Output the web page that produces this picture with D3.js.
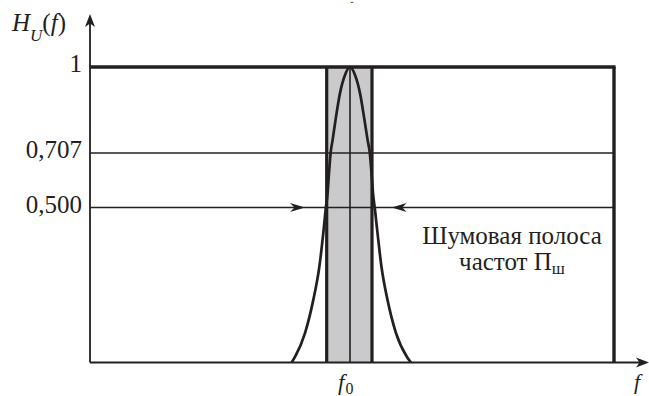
<!DOCTYPE html>
<html>
<head>
<meta charset="utf-8">
<script src="https://cdn.jsdelivr.net/npm/d3@7/dist/d3.min.js"></script>
<style>
  html, body { margin: 0; padding: 0; background: #fff; }
  svg { display: block; }
  svg text { font-family: "Liberation Serif", "Times New Roman", Tinos, "Noto Serif", "DejaVu Serif", serif; fill: #231f20; }
</style>
</head>
<body>
<div id="chart"></div>
<script>
// Resonance curve H_U(f) with its equivalent noise bandwidth
const levels = [1, 0.707, 0.5];
const tickLabels = ["1", "0,707", "0,500"];

// Detuning from f0 (relative units) and curve values
const curveF = [-5.84, -5.5, -4.5, -3.67, -3.07, -2.67, -2.44, -2.24, -2.1, -1.94, -1.74, -1.4, -1.0, -0.5, 0,
                 0.5, 1.0, 1.4, 1.76, 1.98, 2.15, 2.3, 2.5, 2.75, 3.15, 3.75, 4.6, 5.7, 6.1];
const curveH = [0, 0.018, 0.095, 0.202, 0.308, 0.418, 0.492, 0.555, 0.631, 0.707, 0.751, 0.83, 0.911, 0.973, 1,
                0.973, 0.911, 0.83, 0.751, 0.707, 0.631, 0.555, 0.492, 0.418, 0.308, 0.202, 0.095, 0.018, 0];

// Noise bandwidth edges and the frame's right edge
const bandEdges = [-2.33, 2.2];
const frameRight = [26.4];
// Arrow tips marking the noise band on the 0.5 level
const arrowTips = [-4.5, 4.17];

const W = 649, H = 396;
const serif = "'Liberation Serif', 'Times New Roman', Tinos, 'Noto Serif', 'DejaVu Serif', serif";
const svg = d3.select("#chart").append("svg").attr("width", W).attr("height", H)
  .attr("font-family", serif);

const x = d3.scaleLinear().domain([-26, 26.4]).range([90, 614]);
const y = d3.scaleLinear().domain([0, 0.5, 0.707, 1]).range([362.5, 207.5, 153, 67]);

const ink = "#231f20";
const x0 = x.range()[0];
const xEnd = x(frameRight[0]);

// noise band
svg.append("rect")
  .attr("x", x(bandEdges[0])).attr("y", y(1))
  .attr("width", x(bandEdges[1]) - x(bandEdges[0]))
  .attr("height", y(0) - y(1))
  .attr("fill", "#cacacc");

// reference levels 0.707 and 0.5
svg.selectAll("line.level")
  .data(levels.slice(1))
  .join("line")
  .attr("class", "level")
  .attr("x1", x0).attr("x2", xEnd)
  .attr("y1", d => y(d)).attr("y2", d => y(d))
  .attr("stroke", ink).attr("stroke-width", 1.6);

// centre frequency line
svg.append("line")
  .attr("x1", x(0)).attr("x2", x(0))
  .attr("y1", y(1)).attr("y2", y(0))
  .attr("stroke", ink).attr("stroke-width", 1.6);

// band edges
svg.selectAll("line.edge")
  .data(bandEdges)
  .join("line")
  .attr("class", "edge")
  .attr("x1", d => x(d)).attr("x2", d => x(d))
  .attr("y1", y(1)).attr("y2", y(0))
  .attr("stroke", ink).attr("stroke-width", 3.2);

// resonance curve
const pts = curveF.map((f, i) => [f, curveH[i]]);
svg.append("path")
  .datum(pts)
  .attr("d", d3.line().x(d => x(d[0])).y(d => y(d[1])).curve(d3.curveMonotoneX))
  .attr("fill", "none").attr("stroke", ink).attr("stroke-width", 2.7);

// top level (1) and right frame
svg.append("line")
  .attr("x1", x0).attr("x2", xEnd + 1.6)
  .attr("y1", y(1)).attr("y2", y(1))
  .attr("stroke", ink).attr("stroke-width", 3.4);
svg.append("line")
  .attr("x1", xEnd).attr("x2", xEnd)
  .attr("y1", y(1)).attr("y2", y(0))
  .attr("stroke", ink).attr("stroke-width", 3.4);

// axes
const yAxis = d3.axisLeft(y)
  .tickValues(levels)
  .tickFormat((d, i) => tickLabels[i])
  .tickSize(0).tickPadding(8);
const gy = svg.append("g").attr("transform", `translate(${x0},0)`).call(yAxis)
  .attr("font-family", serif).attr("font-size", 25);
gy.select(".domain").remove();
gy.selectAll("text")
  .attr("dy", "0.19em")
  .attr("fill", ink);

svg.append("line")
  .attr("x1", x0).attr("x2", x0)
  .attr("y1", y(0)).attr("y2", 20)
  .attr("stroke", ink).attr("stroke-width", 1.8);
svg.append("line")
  .attr("x1", x0).attr("x2", 642)
  .attr("y1", y(0)).attr("y2", y(0))
  .attr("stroke", ink).attr("stroke-width", 1.8);

// barbed arrowhead, tip at origin pointing along +x
const headPath = (len, half, notch) => `M0,0 L${-len},${-half} L${-notch},0 L${-len},${half} Z`;

svg.append("path")
  .attr("d", headPath(13, 5, 9.5))
  .attr("transform", `translate(${x0},14) rotate(-90)`)
  .attr("fill", ink);
svg.append("path")
  .attr("d", headPath(13, 5, 9.5))
  .attr("transform", `translate(649,${y(0)})`)
  .attr("fill", ink);

// arrows pointing at the noise band on the 0.5 level
svg.selectAll("path.tip")
  .data(arrowTips)
  .join("path")
  .attr("class", "tip")
  .attr("d", headPath(15, 4.5, 10.5))
  .attr("transform", d => `translate(${x(d)},${y(0.5)}) rotate(${d < 0 ? 0 : 180})`)
  .attr("fill", ink);

// axis titles
const hl = svg.append("text").attr("x", 12).attr("y", 31).attr("font-size", 25);
hl.append("tspan").text("H").attr("font-style", "italic");
hl.append("tspan").text("U").attr("font-style", "italic").attr("font-size", 17).attr("dy", 10);
hl.append("tspan").text("(").attr("dy", -10);
hl.append("tspan").text("f").attr("font-style", "italic");
hl.append("tspan").text(")");

const f0 = svg.append("text").attr("x", x(0) - 12).attr("y", 390).attr("font-size", 23);
f0.append("tspan").text("f").attr("font-style", "italic");
f0.append("tspan").text("0").attr("font-size", 16).attr("dx", 1).attr("dy", 4);

svg.append("text").attr("x", 634).attr("y", 389)
  .attr("font-size", 22).attr("font-style", "italic").text("f");

// band annotation
svg.append("text").attr("x", 512).attr("y", 244)
  .attr("text-anchor", "middle").attr("font-size", 25)
  .text("Шумовая полоса");
const lbl = svg.append("text").attr("x", 512).attr("y", 270)
  .attr("text-anchor", "middle").attr("font-size", 25);
lbl.append("tspan").text("частот П");
lbl.append("tspan").text("ш").attr("font-size", 17).attr("dy", 4);

// small mark at the top edge
svg.append("text").attr("x", 352).attr("y", 9)
  .attr("text-anchor", "middle").attr("font-size", 10).attr("fill", "#6a6a80").text("ˇ");
</script>
</body>
</html>
